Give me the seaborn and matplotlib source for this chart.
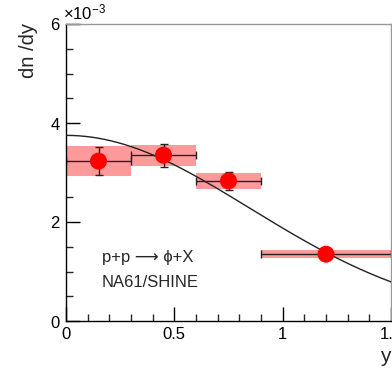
import numpy as np
import pandas as pd
import matplotlib
matplotlib.use("Agg")
import matplotlib.pyplot as plt
import seaborn as sns
from matplotlib.ticker import MultipleLocator, ScalarFormatter

# phi meson rapidity spectrum, p+p (NA61/SHINE)
bin_lo = [0.0, 0.3, 0.6, 0.9]
bin_hi = [0.3, 0.6, 0.9, 1.5]
y_mid = [0.15, 0.45, 0.75, 1.2]
dndy = [3.23e-3, 3.35e-3, 2.83e-3, 1.35e-3]
stat_err = [0.28e-3, 0.23e-3, 0.18e-3, 0.04e-3]
sys_err = [0.30e-3, 0.21e-3, 0.17e-3, 0.08e-3]

# Gaussian fit to the spectrum
fit_amp = 3.75e-3
fit_sigma = 0.85

x_ticks = [0, 0.5, 1, 1.5]
x_tick_labels = ["0", "0.5", "1", "1.5"]

sns.set_theme(style="ticks")
plt.rcParams["font.family"] = ["Liberation Sans", "DejaVu Sans"]
plt.rcParams["mathtext.fontset"] = "custom"
plt.rcParams["mathtext.rm"] = "Liberation Sans"
plt.rcParams["mathtext.it"] = "Liberation Sans"

fig = plt.figure(figsize=(3.92, 3.68), dpi=100)
ax = fig.add_axes([66 / 392, 1 - 321 / 368, 325 / 392, 297 / 368])

df = pd.DataFrame({"y": y_mid, "dndy": dndy, "stat": stat_err, "sys": sys_err,
                   "lo": bin_lo, "hi": bin_hi})

# systematic uncertainty boxes
for _, r in df.iterrows():
    ax.fill_between([r.lo, r.hi], r.dndy - r.sys, r.dndy + r.sys,
                    color="#ff9a9a", lw=0, zorder=1)

# fit curve
yy = np.linspace(0, 1.5, 300)
fit_df = pd.DataFrame({"y": yy, "f": fit_amp * np.exp(-yy ** 2 / (2 * fit_sigma ** 2))})
sns.lineplot(data=fit_df, x="y", y="f", ax=ax, color="#222222", lw=1.0, zorder=3)

# statistical errors and bin widths
ax.errorbar(df.y, df.dndy, yerr=df.stat,
            xerr=[df.y - df.lo, df.hi - df.y],
            fmt="none", ecolor="#222222", elinewidth=1.0, capsize=3, capthick=1.0,
            zorder=2)

sns.scatterplot(data=df, x="y", y="dndy", ax=ax, color="#ff0000", s=150,
                edgecolor="none", zorder=4)

ax.set_xlim(0, 1.5)
ax.set_ylim(0, 6e-3)

ax.set_xticks(x_ticks)
ax.set_xticklabels(x_tick_labels)
ax.xaxis.set_minor_locator(MultipleLocator(0.1))
ax.yaxis.set_major_locator(MultipleLocator(2e-3))
ax.yaxis.set_minor_locator(MultipleLocator(0.5e-3))
fmt = ScalarFormatter(useMathText=True)
fmt.set_powerlimits((0, 0))
ax.yaxis.set_major_formatter(fmt)

ax.tick_params(which="major", direction="in", length=10, width=1, labelsize=12,
               colors="black")
ax.tick_params(which="minor", direction="in", length=5, width=1)
ax.tick_params(axis="y", pad=4)
ax.tick_params(axis="x", pad=4)
ax.yaxis.get_offset_text().set_fontsize(12)
ax.yaxis.get_offset_text().set_x(-0.01)

for s in ("left", "bottom"):
    ax.spines[s].set_color("black")
    ax.spines[s].set_linewidth(1.0)
for s in ("top", "right"):
    ax.spines[s].set_color("#999999")
    ax.spines[s].set_linewidth(1.0)

ax.set_xlabel("")
ax.set_ylabel("")
fig.text(385 / 392, 1 - 357 / 368, "y", fontsize=15, ha="center", va="center")
fig.text(29 / 392, 1 - 50 / 368, "dn /dy", fontsize=14.5, rotation=90,
         ha="center", va="center")

ax.text(0.165, 1.28e-3, "p+p \u27f6 \u03d5+X", fontsize=12,
        ha="left", va="center", family=["Liberation Sans", "DejaVu Sans"])
ax.text(0.165, 0.77e-3, "NA61/SHINE", fontsize=12, ha="left", va="center")

fig.savefig("out.png", dpi=100)
